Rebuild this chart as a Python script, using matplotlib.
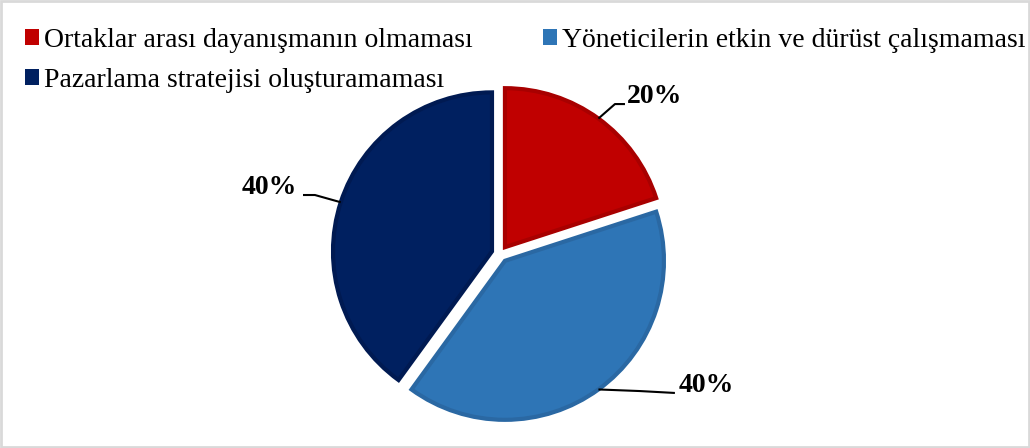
import numpy as np
import matplotlib.pyplot as plt
from matplotlib.patches import Rectangle, Patch

# veriler
labels = ['Ortaklar arası dayanışmanın olmaması',
          'Yöneticilerin etkin ve dürüst çalışmaması',
          'Pazarlama stratejisi oluşturamaması']
values = [20, 40, 40]
colors = ['#C00000', '#2E75B6', '#002060']
edge_colors = ['#A80000', '#2A68A3', '#001A52']

# etiket metin konumları ve çizgi kırılma noktaları (veri koordinatında)
text_pos = [(0.975, 0.99), (1.296, -0.83), (-1.453, 0.42)]
line_pts = [[(0.723, 0.943), (0.786, 0.943)],
            [(0.88, -0.862), (1.10, -0.874)],
            [(-1.164, 0.371), (-1.239, 0.371)]]

plt.rcParams['font.family'] = ['Liberation Serif', 'DejaVu Serif']

fig = plt.figure(figsize=(10.3, 4.48), dpi=100)

# pasta merkezi ~ (500, 254) px, yarıçap ~159 px
R = 159
half = 1.6
cx, cy = 500, 448 - 254
ax = fig.add_axes([(cx - half * R) / 1030, (cy - half * R) / 448,
                   2 * half * R / 1030, 2 * half * R / 448])

explode = [0.053] * len(values)
wedges, _ = ax.pie(values, colors=colors, startangle=90, counterclock=False,
                   explode=explode, radius=1.0, frame=True,
                   wedgeprops=dict(linewidth=3))
ax.set_xlim(-half, half)
ax.set_ylim(-half, half)
ax.axis('off')
for w, ec in zip(wedges, edge_colors):
    w.set_edgecolor(ec)

# yüzde etiketleri ve çizgiler
total = sum(values)
for w, v, tp, pts, ex in zip(wedges, values, text_pos, line_pts, explode):
    ang = np.deg2rad((w.theta1 + w.theta2) / 2)
    sx = (1 + ex) * np.cos(ang)
    sy = (1 + ex) * np.sin(ang)
    xs = [sx] + [p[0] for p in pts]
    ys = [sy] + [p[1] for p in pts]
    ax.plot(xs, ys, color='black', linewidth=1.5, solid_capstyle='butt')
    ax.text(tp[0], tp[1], f'{v / total * 100:.0f}%', ha='center', va='center',
            fontsize=20, fontweight='bold')

# lejant: ilk satırda iki öğe, ikinci satırda bir öğe
order = [0, 2, 1]
handles = [Patch(facecolor=colors[i], edgecolor='none') for i in order]
fig.legend(handles, [labels[i] for i in order],
           loc='upper left', bbox_to_anchor=(0.0135, 0.963), ncol=2,
           frameon=False, fontsize=20, handlelength=0.5, handleheight=0.5,
           handletextpad=0.2, columnspacing=2.5, labelspacing=0.55,
           borderaxespad=0)

fig.patches.append(Rectangle((0.001, 0.002), 0.998, 0.996, transform=fig.transFigure,
                             fill=False, edgecolor='#D9D9D9', linewidth=2))

fig.savefig('out.png', dpi=100)
